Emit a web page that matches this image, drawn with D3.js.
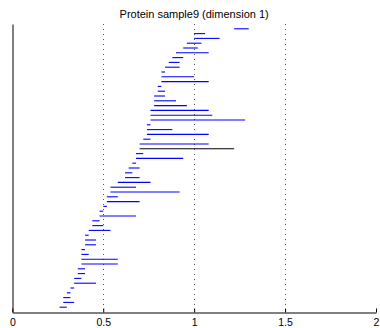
<!DOCTYPE html>
<html>
<head>
<meta charset="utf-8">
<script src="https://cdn.jsdelivr.net/npm/d3@7"></script>
<style>
  body { margin: 0; background: #fff; }
  svg { display: block; font-family: "Liberation Sans", Arial, sans-serif; }
</style>
</head>
<body>
<script>
// barcode intervals, bottom to top
const births = [0.26, 0.28, 0.28, 0.30, 0.32, 0.34, 0.34, 0.36, 0.36, 0.38,
                0.38, 0.38, 0.38, 0.40, 0.40, 0.40, 0.42, 0.44, 0.44, 0.48,
                0.48, 0.50, 0.52, 0.52, 0.54, 0.54, 0.58, 0.62, 0.62, 0.64,
                0.66, 0.68, 0.68, 0.70, 0.70, 0.72, 0.74, 0.74, 0.74, 0.76,
                0.76, 0.76, 0.78, 0.78, 0.78, 0.80, 0.80, 0.82, 0.82, 0.82,
                0.84, 0.86, 0.88, 0.90, 0.94, 0.96, 1.00, 1.00, 1.22];
const deaths = [0.30, 0.34, 0.32, 0.32, 0.34, 0.46, 0.38, 0.40, 0.40, 0.58,
                0.58, 0.42, 0.40, 0.46, 0.46, 0.42, 0.54, 0.50, 0.48, 0.68,
                0.50, 0.52, 0.70, 0.58, 0.92, 0.68, 0.76, 0.70, 0.66, 0.70,
                0.68, 0.94, 0.72, 1.22, 1.08, 0.76, 1.08, 0.88, 0.76, 1.28,
                1.10, 1.08, 0.96, 0.90, 0.84, 0.84, 0.82, 1.08, 1.00, 0.84,
                0.92, 0.92, 0.94, 1.08, 1.02, 1.04, 1.14, 1.06, 1.30];
// which bar is drawn in black
const highlight = [34];
const xTicks = [0, 0.5, 1, 1.5, 2];
const xTickLabels = ["0", "0.5", "1", "1.5", "2"];
const title = "Protein sample9 (dimension 1)";

const width = 380, height = 328;
const margin = {top: 24, right: 4, bottom: 16, left: 12};

const svg = d3.select("body").append("svg")
    .attr("width", width)
    .attr("height", height);

const x = d3.scaleLinear()
    .domain([0, 2])
    .range([margin.left + 0.3, width - margin.right]);

const y = d3.scaleLinear()
    .domain([0, births.length + 1])
    .range([height - margin.bottom, margin.top]);

// dotted grid
svg.append("g")
    .selectAll("line")
    .data(xTicks.filter(d => d > 0 && d < 2))
    .join("line")
    .attr("x1", d => Math.round(x(d)) + 0.5)
    .attr("x2", d => Math.round(x(d)) + 0.5)
    .attr("y1", y(births.length + 1))
    .attr("y2", y(0))
    .attr("stroke", "#555")
    .attr("stroke-width", 1)
    .attr("stroke-dasharray", "1,4");

// intervals
const bars = births.map((b, i) => ({birth: b, death: deaths[i], idx: i + 1}));

svg.append("g")
    .selectAll("line")
    .data(bars)
    .join("line")
    .attr("x1", d => x(d.birth))
    .attr("x2", d => x(d.death))
    .attr("y1", d => y(d.idx))
    .attr("y2", d => y(d.idx))
    .attr("stroke", d => highlight.includes(d.idx) ? "#000" : "#0000ff")
    .attr("stroke-width", 1.1);

// axes
const xAxis = d3.axisBottom(x)
    .tickValues(xTicks)
    .tickFormat((d, i) => xTickLabels[i])
    .tickSizeInner(-4)
    .tickSizeOuter(0)
    .tickPadding(6);

const gx = svg.append("g")
    .attr("transform", `translate(0,${Math.round(y(0)) + 0.5})`)
    .call(xAxis);
gx.select(".domain").attr("stroke", "#000");
gx.selectAll(".tick line").attr("stroke", "#000");
gx.selectAll(".tick text")
    .attr("font-size", "10.5px")
    .attr("font-family", "Liberation Sans, Arial, sans-serif")
    .attr("fill", "#000");

const gy = svg.append("g")
    .attr("transform", `translate(${Math.round(x(0)) + 0.5},0)`)
    .call(d3.axisLeft(y).tickValues([]).tickSizeOuter(0));
gy.select(".domain").attr("stroke", "#000");

svg.append("text")
    .attr("x", (x(0) + x(2)) / 2)
    .attr("y", 18)
    .attr("text-anchor", "middle")
    .attr("font-size", "11px")
    .attr("fill", "#000")
    .text(title);
</script>
</body>
</html>
